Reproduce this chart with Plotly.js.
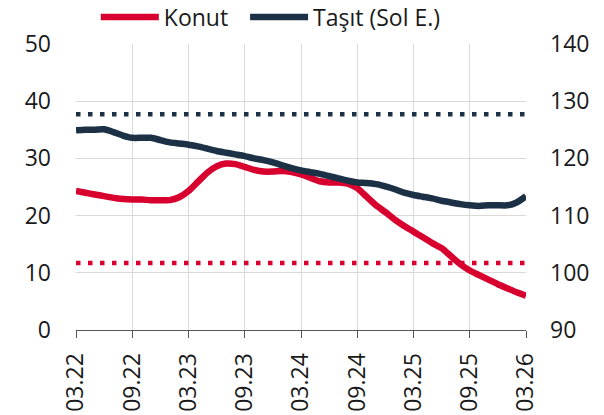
<!DOCTYPE html>
<html>
<head>
<meta charset="utf-8">
<script src="https://cdn.plot.ly/plotly-3.0.1.min.js"></script>
<style>html,body{margin:0;padding:0;background:#fff;}#chart{width:604px;height:415px;}</style>
</head>
<body>
<div id="chart"></div>
<script>
// Months 03.22 .. 03.26 (monthly, 49 points)
const months = [];
for (let y = 22; y <= 26; y++) {
  for (let m = 1; m <= 12; m++) {
    if ((y === 22 && m < 3) || (y === 26 && m > 3)) continue;
    months.push((m < 10 ? '0' + m : '' + m) + '.' + y);
  }
}
const tickLabels = ['03.22','09.22','03.23','09.23','03.24','09.24','03.25','09.25','03.26'];

// Taşıt (left axis)
const tasit = [34.9,35.0,35.0,35.1,34.6,34.0,33.6,33.6,33.6,33.2,32.8,32.6,32.4,32.1,31.7,31.3,31.0,30.7,30.4,30.0,
  29.7,29.3,28.8,28.3,27.9,27.6,27.3,26.9,26.5,26.1,25.8,25.7,25.5,25.1,24.6,24.0,23.6,23.3,23.0,22.6,
  22.3,22.0,21.8,21.7,21.8,21.8,21.8,22.3,23.4];
// Konut (right axis)
const konut = [114.3,114.0,113.7,113.4,113.1,112.9,112.8,112.8,112.7,112.7,112.7,113.2,114.3,115.9,117.5,118.6,119.1,119.0,118.5,118.0,
  117.7,117.7,117.8,117.6,117.2,116.6,116.0,115.8,115.8,115.6,114.8,113.3,111.8,110.6,109.3,108.2,107.2,106.2,105.2,104.3,
  102.9,101.5,100.4,99.6,98.8,98.0,97.3,96.6,96.0];
// Averages (dotted lines)
const tasitAvg = 37.7;
const konutAvg = 101.7;

const RED = '#D7002E';
const NAVY = '#1C3146';
const idx = months.map((_, i) => i);
const tickIdx = tickLabels.map(t => months.indexOf(t));

const traces = [
  {x: idx, y: konut, name: 'Konut\u00a0\u00a0', type: 'scatter', mode: 'lines', yaxis: 'y',
   line: {color: RED, width: 6.5, shape: 'spline', smoothing: 0.6}},
  {x: idx, y: tasit, name: 'Taşıt (Sol E.)', type: 'scatter', mode: 'lines', yaxis: 'y2',
   line: {color: NAVY, width: 6.5, shape: 'spline', smoothing: 0.6}},
  {x: idx, y: idx.map(() => konutAvg), showlegend: false, type: 'scatter', mode: 'lines', yaxis: 'y',
   line: {color: RED, width: 4.5, dash: '4.5px,7.5px'}, hoverinfo: 'skip'},
  {x: idx, y: idx.map(() => tasitAvg), showlegend: false, type: 'scatter', mode: 'lines', yaxis: 'y2',
   line: {color: NAVY, width: 4.5, dash: '4.5px,7.5px'}, hoverinfo: 'skip'}
];

const layout = {
  width: 604, height: 415,
  margin: {l: 76, r: 78, t: 44, b: 85, autoexpand: false},
  paper_bgcolor: '#fff', plot_bgcolor: '#fff',
  font: {family: '"Open Sans", "Noto Sans", sans-serif', size: 23, color: '#1a1a1a'},
  showlegend: true,
  legend: {orientation: 'h', x: 0.044, xanchor: 'left', y: 1.094, yanchor: 'middle',
           font: {size: 23, color: '#1a1a1a'}, traceorder: 'normal', itemwidth: 58,
           bgcolor: 'rgba(0,0,0,0)'},
  xaxis: {range: [0, 48], tickmode: 'array', tickvals: tickIdx, ticktext: tickLabels,
          tickangle: -90, ticks: 'outside', ticklen: 7, tickcolor: '#555', showline: true,
          linecolor: '#555', linewidth: 1, showgrid: true, gridcolor: '#d9d9d9', gridwidth: 1,
          zeroline: false, ticklabelstandoff: 6, tickfont: {size: 23}},
  yaxis: {side: 'right', range: [90, 140], dtick: 10, tick0: 90, showgrid: true,
          gridcolor: '#d9d9d9', gridwidth: 1, zeroline: false, showline: false,
          ticks: '', ticklabelstandoff: 23, tickfont: {size: 23}},
  yaxis2: {side: 'left', overlaying: 'y', range: [0, 50], dtick: 10, showgrid: false,
           zeroline: false, showline: false, ticks: '', ticklabelstandoff: 24, tickfont: {size: 23}}
};

Plotly.newPlot('chart', traces, layout, {displayModeBar: false, staticPlot: true});
</script>
</body>
</html>
